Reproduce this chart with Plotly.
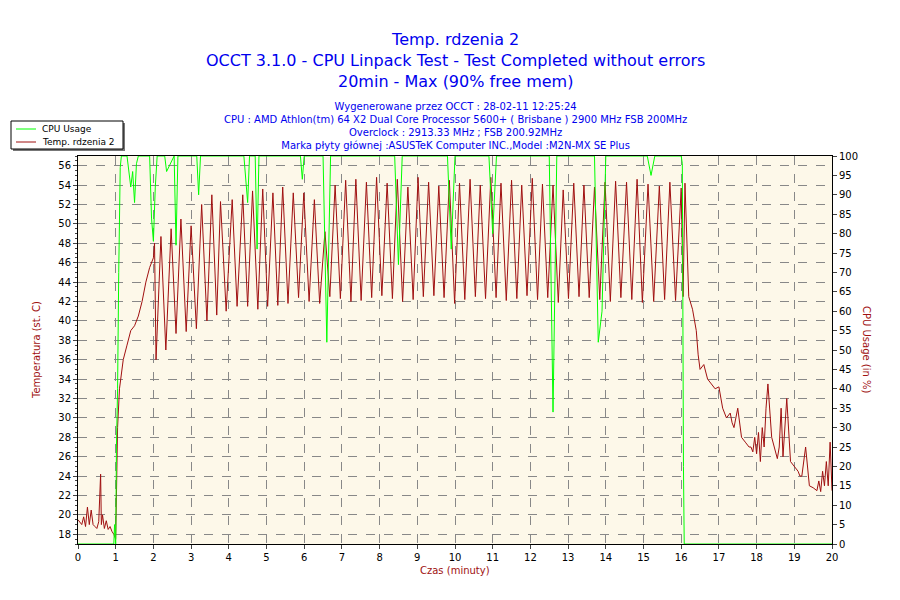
import plotly.graph_objects as go

# Temperature key points (time in minutes, temperature in C)
temp_t = [0,0.05,0.1,0.15,0.2,0.25,0.3,0.35,0.4,0.45,0.5,0.55,0.6,0.62,0.65,0.7,0.75,0.8,0.85,0.9,0.95,1.0,1.02,
          1.05,1.1,1.2,1.3,1.4,1.5,1.6,1.7,1.8,1.9,2.0,2.03,
          2.07,2.2,2.33,2.47,2.6,2.73,2.87,3.0,3.14,3.28,3.42,3.55,3.68,3.78,3.93,4.09,4.22,4.37,4.5,4.63,4.77,4.9,5.03,
          5.17,5.3,5.43,5.57,5.71,5.85,5.99,6.13,6.27,6.41,6.55,6.68,6.82,6.96,7.1,7.24,7.37,7.51,7.65,7.79,7.92,8.06,
          8.2,8.34,8.47,8.61,8.75,8.89,9.02,9.16,9.3,9.44,9.57,9.71,9.85,9.99,10.12,10.26,10.4,10.54,10.67,10.81,
          10.95,11.09,11.22,11.36,11.5,11.64,11.77,11.91,12.05,12.19,12.32,12.46,12.6,12.74,12.87,13.01,13.15,13.29,
          13.42,13.56,13.7,13.84,13.98,14.12,14.26,14.4,14.55,14.69,14.83,14.97,15.12,15.27,15.42,15.56,15.7,15.85,16.0,
          16.05,16.1,16.2,16.3,16.4,16.45,16.5,16.6,16.7,16.8,16.9,17.0,17.1,17.2,17.3,17.35,17.4,17.5,17.6,17.7,17.8,
          17.85,17.9,17.95,18.0,18.05,18.1,18.15,18.2,18.25,18.3,18.4,18.5,18.55,18.6,18.65,18.7,18.8,18.9,19.0,19.1,
          19.15,19.2,19.3,19.4,19.5,19.6,19.65,19.7,19.75,19.8,19.85,19.9,19.95,20.0]
temp_v = [19.5,19.2,19.0,19.8,18.8,20.8,19.0,20.5,19.0,18.8,18.6,19.3,24.2,19.0,20.0,18.6,19.4,18.5,18.8,18.3,18.0,17.5,22,
          29,33,36,37.5,39,39.5,40.5,42,44,45.5,46.5,48,
          36,48.7,37,49.5,38.7,50.5,38.9,49.8,39.2,52,40,53,40.6,52.3,41,52.5,41.5,53,41.5,53.4,41.2,53.6,41.5,
          53.2,41.6,53.8,41.8,53.2,42.4,53.2,42.0,52.5,41.8,49.2,42.5,54,42.3,54.5,42.0,54.6,42.1,54.3,42.4,54.8,42.6,
          54.2,42.3,54.6,42.0,53.8,42.2,54.8,42.5,54.3,42.6,53.9,42.4,54.5,41.8,54.2,42.2,54.6,42.5,54.0,42.3,
          54.8,42.4,54.2,42.1,54.5,42.3,54.0,42.6,54.7,42.2,54.1,42.4,54.0,41.9,53.5,42.3,54.2,42.5,54.0,42.4,
          53.8,42.2,54.3,42.0,54.4,42.4,54.3,42.2,54.6,41.9,54.1,42.0,53.9,42.2,54.3,42.1,53.7,42.5,54.2,
          42.5,41.2,39.0,36.5,35.0,35.5,34.0,33.5,33.0,33.2,31.0,30.0,30.5,29.5,29.0,31.0,28.0,27.5,27.0,27.0,26.5,
          28.0,26.3,28.5,25.5,29.0,27.0,31.0,33.5,28.0,26.5,25.8,27.0,31.0,26.0,32.0,25.5,25.0,24.5,24.0,24.0,
          27.0,23.0,22.8,22.5,23.5,22.4,24.5,23.0,25.5,23.0,27.5,22.5,22.0,23.0]

# CPU usage key points (time in minutes, %)
cpu_t = [0,0.95,0.97,0.99,1.0,1.02,1.05,1.08,1.12,1.15,1.3,1.4,1.45,1.5,1.55,1.6,1.9,1.95,2.0,2.05,2.1,2.3,2.35,
         2.55,2.6,2.65,2.9,3.15,3.2,3.25,4.4,4.5,4.55,4.7,4.75,4.8,5.0,5.9,5.95,6.0,6.5,6.6,6.7,7.0,8.4,8.5,8.6,
         9.8,9.9,10.0,10.9,11.0,11.1,12.5,12.6,12.7,13.7,13.8,13.9,14.0,15.1,15.2,15.3,16.0,16.03,16.06,16.08,20.0]
cpu_v = [0,0,5,0,0,25,40,70,97,100,100,92,96,88,98,100,100,84,78,92,100,100,96,
         100,77,100,100,100,90,100,100,88,100,100,76,100,100,100,94,100,100,52,100,100,100,72,100,
         100,76,100,100,80,100,100,34,100,100,52,60,100,100,95,100,100,98,20,0,0]

xticks = list(range(0, 21))
temp_ticks = list(range(18, 57, 2))
cpu_ticks = list(range(0, 101, 5))
series_names = ["CPU Usage", "Temp. rdzenia 2"]
series_colors = ["#00FF00", "#A01010"]

fig = go.Figure()
fig.add_trace(go.Scatter(x=cpu_t, y=cpu_v, name=series_names[0], yaxis="y2", mode="lines",
                         line=dict(color=series_colors[0], width=1)))
fig.add_trace(go.Scatter(x=temp_t, y=temp_v, name=series_names[1], mode="lines",
                         line=dict(color=series_colors[1], width=1)))

font = "DejaVu Sans"
dark = "#A01010"
fig.update_layout(
    width=900, height=600, paper_bgcolor="white", plot_bgcolor="#FDF8E9",
    margin=dict(l=70, r=76, t=148, b=64, autoexpand=False),
    font=dict(family=font, size=10, color="black"),
    showlegend=False,
    xaxis=dict(range=[0, 20], tickvals=xticks, showgrid=True, gridcolor="#888", griddash="dash",
               linecolor="black", mirror=True, showline=True, ticks="outside", ticklen=4, zeroline=False,
               automargin=False),
    yaxis=dict(range=[17, 57], tickvals=temp_ticks, showgrid=True, gridcolor="#888", griddash="dash",
               linecolor="black", showline=True, ticks="outside", ticklen=4, zeroline=False,
               automargin=False,
               minor=dict(dtick=0.5, ticks="outside", ticklen=2, showgrid=False)),
    yaxis2=dict(range=[0, 100], tickvals=cpu_ticks, overlaying="y", side="right", showgrid=False,
                linecolor="black", showline=True, ticks="outside", ticklen=4, zeroline=False,
                automargin=False),
)

def px(x): return (x - 77) / 754
def py(y): return (543 - y) / 388

def label(text, x, y, angle=0, size=10, color=dark, xanchor="center"):
    fig.add_annotation(text=text, xref="paper", yref="paper", x=px(x), y=py(y), textangle=angle,
                       xanchor=xanchor, yanchor="middle", showarrow=False,
                       font=dict(size=size, color=color))

# axis titles
label("Temperatura (st. C)", 35, 349, angle=-90)
label("CPU Usage (in %)", 866, 349, angle=90)
label("Czas (minuty)", 454, 569)

# legend box (drawn)
fig.add_shape(type="rect", xref="paper", yref="paper", x0=px(12), x1=px(124), y0=py(122), y1=py(150),
              fillcolor="#777", line=dict(width=0), layer="above")
fig.add_shape(type="rect", xref="paper", yref="paper", x0=px(10), x1=px(122), y0=py(120), y1=py(148),
              fillcolor="white", line=dict(color="black", width=1), layer="above")
for i, (nm, col) in enumerate(zip(series_names, series_colors)):
    yy = 128 + i * 13
    fig.add_shape(type="line", xref="paper", yref="paper", x0=px(15), x1=px(35), y0=py(yy), y1=py(yy),
                  line=dict(color=col, width=1), layer="above")
    label(nm, 39, yy, size=9, color="black", xanchor="left")

fig.add_annotation(text="Temp. rdzenia 2<br>OCCT 3.1.0 - CPU Linpack Test - Test Completed without errors<br>20min - Max (90% free mem)",
                   xref="paper", yref="paper", x=0.5, y=1.0, yshift=128, xanchor="center", yanchor="top",
                   showarrow=False, font=dict(family=font, size=16, color="#0000EE"))
fig.add_annotation(text="Wygenerowane przez OCCT : 28-02-11 12:25:24<br>CPU : AMD Athlon(tm) 64 X2 Dual Core Processor 5600+ ( Brisbane ) 2900 MHz FSB 200MHz<br>Overclock : 2913.33 MHz ; FSB 200.92MHz<br>Marka płyty głównej :ASUSTeK Computer INC.,Model :M2N-MX SE Plus",
                   xref="paper", yref="paper", x=0.5, y=1.0, yshift=57, xanchor="center", yanchor="top",
                   showarrow=False, font=dict(family=font, size=10, color="#0000EE"))
fig.write_html("out.html")
